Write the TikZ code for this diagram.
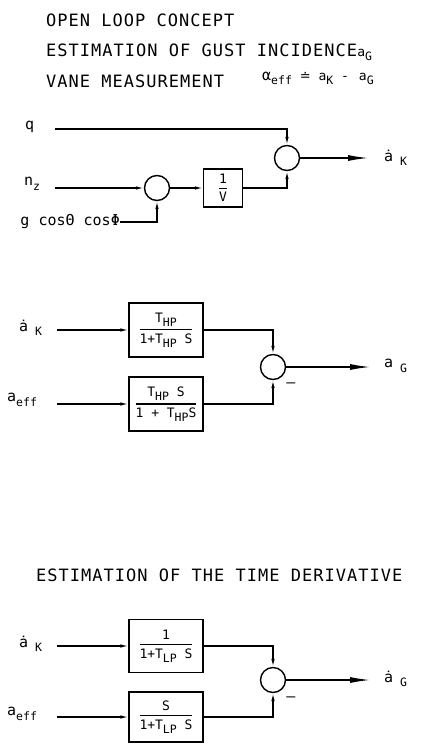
\documentclass[tikz,border=0pt]{standalone}
\usepackage{amsmath}
\usepackage{fontspec}
\setmainfont{DejaVu Sans Mono}
\newfontfamily\headfam{DejaVu Sans Mono}[LetterSpace=6]
\newfontfamily\symfam{DejaVu Sans}
\usetikzlibrary{positioning,arrows.meta}
\newcommand{\headfont}{\headfam\fontsize{17}{17}\selectfont}
\newcommand{\labfont}{\fontsize{15}{15}\selectfont}
\newcommand{\boxfont}{\fontsize{13}{13}\selectfont}
\newcommand{\lo}[1]{\raisebox{-0.55ex}{\fontsize{11.5}{11.5}\selectfont#1}}
\newcommand{\tf}[2]{$\displaystyle\genfrac{}{}{1.1pt}{0}{\text{#1}}{\text{#2}}$}

\begin{document}
\begin{tikzpicture}[x=1pt,y=-1pt]
\tikzset{
  sigline/.style={line width=1.2pt},
  inarr/.style={sigline,-{Latex[length=8pt,width=3.5pt]}},
  outarr/.style={sigline,-{Latex[length=20pt,width=6pt]}},
  sumpt/.style={circle,draw,line width=1.4pt,minimum size=25pt,inner sep=0pt},
  tfbox/.style={draw,line width=1.3pt,minimum width=74pt,minimum height=54pt,inner sep=0pt,font=\boxfont},
  heading/.style={anchor=west,inner sep=0pt,font=\headfont},
  sigtext/.style={anchor=west,inner sep=0pt,font=\labfont},
  negsign/.style={font=\labfont,inner sep=0pt},
}
\useasboundingbox (0,0) rectangle (422,744);

% headings
\node[heading] (head1) at (46,20) {OPEN LOOP CONCEPT};
\node[heading] (head2) at (46,52) {ESTIMATION OF GUST INCIDENCE{\boxfont a\lo{G}}};
\node[heading] (head3) at (46,81) {VANE MEASUREMENT};
\node[sigtext,font=\boxfont] (vaneeq) at (262,78) {{\labfont α}\lo{eff} {\symfam ≐} a\lo{K} - \,a\lo{G}};
\node[heading] (head4) at (36,575) {ESTIMATION OF THE TIME DERIVATIVE};

% kinematic estimate of alpha dot
\node[sigtext] (q) at (25,127) {q};
\node[sigtext] (nz) at (24,184) {n\lo{z}};
\node[sigtext,anchor=east] (gcos) at (120,222) {g cosΘ  cosΦ};
\coordinate (qin) at (55,129);
\coordinate (nzin) at (55,188);
\node[sumpt] (sumK) at (287,158) {};
\node[sumpt] (sumN) at (157,188) {};
\node[draw,line width=1.3pt,minimum width=39pt,minimum height=38pt,inner sep=0pt,font=\boxfont] (invV) at (223,188) {\tf{1}{V}};
\coordinate (outK) at (368,158);
\node[sigtext] (aK1) at (384,158) {\.{a}\lo{ K}};
\draw[inarr] (qin) -| (sumK.north);
\draw[inarr] (nzin) -- (sumN.west);
\draw[inarr] (gcos.east) -| (sumN.south);
\draw[inarr] (sumN.east) -- (invV.west);
\draw[inarr] (invV.east) -| (sumK.south);
\draw[outarr] (sumK.east) -- (outK);

% gust incidence
\node[sigtext] (aK2) at (19,328) {\.{a}\lo{ K}};
\node[sigtext] (aeff2) at (7,400) {a\lo{eff}};
\coordinate (aK2in) at (57,330);
\coordinate (aeff2in) at (57,404);
\node[tfbox] (hp1) at (166,330) {\tf{T\lo{HP}}{1+T\lo{HP} S}};
\node[tfbox] (hp2) at (166,404) {\tf{T\lo{HP} S}{1 + T\lo{HP}S}};
\node[sumpt] (sumG) at (273,367) {};
\node[negsign] (minusG) at (291,385) {–};
\coordinate (outG) at (370,367);
\node[sigtext] (aG) at (384,366) {a\lo{ G}};
\draw[inarr] (aK2in) -- (hp1.west);
\draw[inarr] (aeff2in) -- (hp2.west);
\draw[inarr] (hp1.east) -| (sumG.north);
\draw[inarr] (hp2.east) -| (sumG.south);
\draw[outarr] (sumG.east) -- (outG);

% time derivative
\node[sigtext] (aK3) at (19,644) {\.{a}\lo{ K}};
\node[sigtext] (aeff3) at (7,714) {a\lo{eff}};
\coordinate (aK3in) at (57,646);
\coordinate (aeff3in) at (57,717);
\node[tfbox,minimum height=53pt] (lp1) at (166,646) {\tf{1}{1+T\lo{LP} S}};
\node[tfbox,minimum height=50pt] (lp2) at (166,717) {\tf{S}{1+T\lo{LP} S}};
\node[sumpt] (sumD) at (273,680) {};
\node[negsign] (minusD) at (291,699) {–};
\coordinate (outD) at (370,680);
\node[sigtext] (aGdot) at (384,679) {\.{a}\lo{ G}};
\draw[inarr] (aK3in) -- (lp1.west);
\draw[inarr] (aeff3in) -- (lp2.west);
\draw[inarr] (lp1.east) -| (sumD.north);
\draw[inarr] (lp2.east) -| (sumD.south);
\draw[outarr] (sumD.east) -- (outD);
\end{tikzpicture}
\end{document}
